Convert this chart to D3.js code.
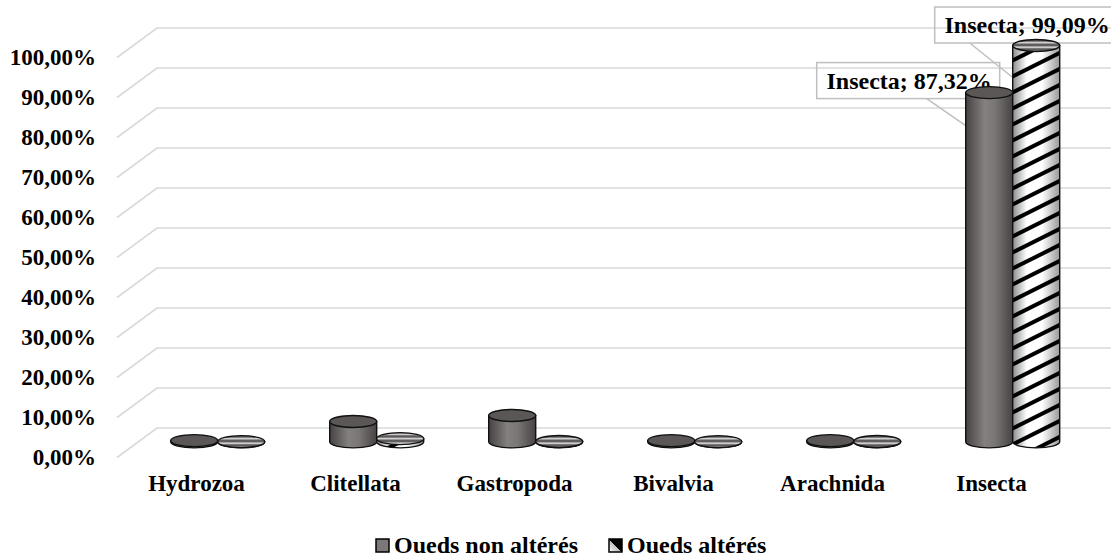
<!DOCTYPE html>
<html>
<head>
<meta charset="utf-8">
<script src="https://cdnjs.cloudflare.com/ajax/libs/d3/7.8.5/d3.min.js"></script>
<style>
    html, body { margin: 0; padding: 0; background: #fff; }
    svg { display: block; }
    text { font-family: "Liberation Serif", "Times New Roman", serif; font-weight: bold; fill: #000; }
</style>
</head>
<body>
<div id="chart"></div>
<script>
    'use strict';

    var categories = ['Hydrozoa', 'Clitellata', 'Gastropoda', 'Bivalvia', 'Arachnida', 'Insecta'];
    var seriesNames = ['Oueds non altérés', 'Oueds altérés'];
    var nonAlteres = [0.3, 5.1, 6.6, 0.3, 0.3, 87.32];
    var alteres = [0.05, 0.8, 0.1, 0.05, 0.1, 99.09];
    var yTicks = [0, 10, 20, 30, 40, 50, 60, 70, 80, 90, 100];
    // only the Insecta bars carry a data label
    var labelled = [
        { series: 0, category: 'Insecta', text: 'Insecta; 87,32%' },
        { series: 1, category: 'Insecta', text: 'Insecta; 99,09%' }
    ];

    var width = 1111;
    var height = 557;
    var depthX = -40, depthY = 29.5;   // back wall -> front edge
    var barDepth = 0.47;               // where the cylinders stand between back and front
    var ox = depthX * barDepth, oy = depthY * barDepth;
    var rx = 23.5, ry = 6;
    var stripeStep = 16, stripeSlope = 0.5;

    var fmt = function (v) { return d3.format('.2f')(v).replace('.', ',') + '%'; };

    var svg = d3.select('#chart').append('svg')
        .attr('width', width)
        .attr('height', height);

    var y = d3.scaleLinear().domain([0, 100]).range([428, 28]);
    var x = d3.scaleBand().domain(categories).range([157, 1111]);
    var xs = d3.scaleBand().domain(seriesNames)
        .range([x.bandwidth() / 2 - 2 * rx, x.bandwidth() / 2 + 2 * rx]);

    // ---- defs: gradients and hatch patterns
    var defs = svg.append('defs');

    var g1 = defs.append('linearGradient').attr('id', 'darkBody');
    [['0%', '#464242'], ['40%', '#858080'], ['62%', '#7b7676'], ['100%', '#474343']].forEach(function (s) {
        g1.append('stop').attr('offset', s[0]).attr('stop-color', s[1]);
    });

    var g2 = defs.append('linearGradient').attr('id', 'shade');
    [['0%', 0.45], ['30%', 0], ['62%', 0], ['100%', 0.4]].forEach(function (s) {
        g2.append('stop').attr('offset', s[0]).attr('stop-color', '#000').attr('stop-opacity', s[1]);
    });

    var hz = defs.append('pattern')
        .attr('id', 'hz')
        .attr('patternUnits', 'userSpaceOnUse')
        .attr('width', 10).attr('height', 4.5);
    hz.append('rect').attr('width', 10).attr('height', 4.5).attr('fill', '#5e5a5a');
    hz.append('rect').attr('width', 10).attr('height', 1.6).attr('y', 1.4).attr('fill', '#e6e6e6');

    var g3 = defs.append('linearGradient').attr('id', 'swatch2')
        .attr('x1', 0).attr('y1', 1).attr('x2', 1).attr('y2', 0);
    [['0%', '#fff'], ['49%', '#bbb'], ['50%', '#000'], ['100%', '#000']].forEach(function (s) {
        g3.append('stop').attr('offset', s[0]).attr('stop-color', s[1]);
    });

    // ---- gridlines (side wall + back wall)
    svg.append('g').selectAll('path').data(yTicks).enter().append('path')
        .attr('d', function (t) {
            return 'M' + (157 + depthX) + ',' + (y(t) + depthY) +
                'L157,' + y(t) + 'L' + width + ',' + y(t);
        })
        .attr('fill', 'none')
        .attr('stroke', '#d9d9d9')
        .attr('stroke-width', 1.6);

    // ---- y axis labels at the front edge
    svg.append('g').selectAll('text').data(yTicks).enter().append('text')
        .attr('x', 96)
        .attr('y', function (t) { return y(t) + depthY - 1; })
        .attr('dy', '0.35em')
        .attr('text-anchor', 'end')
        .style('font-size', '23px')
        .text(function (t) { return fmt(t); });

    // ---- category labels
    svg.append('g').selectAll('text').data(categories).enter().append('text')
        .attr('x', function (c) { return x(c) + x.bandwidth() / 2 + depthX; })
        .attr('y', 491)
        .attr('text-anchor', 'middle')
        .style('font-size', '23px')
        .text(function (c) { return c; });

    function barCenter (si, c) {
        return x(c) + xs(seriesNames[si]) + xs.bandwidth() / 2 + ox;
    }
    function values (si) { return si === 0 ? nonAlteres : alteres; }

    // ---- data labels (drawn before the bars, which cover them a little)
    var labelLayout = [
        { dx: -81, dy: -12, lead: 110, hit: 33 },
        { dx: -10, dy: -20.5, lead: 35, hit: 32 }
    ];
    var lg = svg.append('g');
    labelled.forEach(function (l, i) {
        var cx = barCenter(l.series, l.category);
        var v = values(l.series)[categories.indexOf(l.category)];
        var top = y(v) + oy;
        var L = labelLayout[i];
        var bw = 183, bh = 36;
        var bx = cx + L.dx - bw / 2, by = top + L.dy - bh / 2;
        lg.append('rect')
            .attr('x', bx).attr('y', by).attr('width', bw).attr('height', bh)
            .attr('fill', 'none').attr('stroke', '#bfbfbf').attr('stroke-width', 1.5);
        lg.append('line')
            .attr('x1', bx + L.lead).attr('y1', by + bh)
            .attr('x2', cx - rx).attr('y2', top + L.hit)
            .attr('stroke', '#bfbfbf').attr('stroke-width', 1.5);
        lg.append('text')
            .attr('x', bx + bw / 2 + 1).attr('y', by + bh / 2)
            .attr('dy', '0.35em')
            .attr('text-anchor', 'middle')
            .style('font-size', '24px')
            .text(l.text);
    });

    // ---- cylinders
    var bars = svg.append('g');
    categories.forEach(function (c, ci) {
        [0, 1].forEach(function (si) {
            var v = values(si)[ci];
            var cx = barCenter(si, c);
            var yb = y(0) + oy;
            var yt = y(v) + oy;
            var body = 'M' + (cx - rx) + ',' + yt + 'L' + (cx - rx) + ',' + yb +
                'A' + rx + ',' + ry + ' 0 0 0 ' + (cx + rx) + ',' + yb +
                'L' + (cx + rx) + ',' + yt + 'Z';
            var g = bars.append('g');
            if (si === 0) {
                g.append('path').attr('d', body).attr('fill', 'url(#darkBody)')
                    .attr('stroke', '#111').attr('stroke-width', 1.4);
                g.append('ellipse').attr('cx', cx).attr('cy', yt).attr('rx', rx).attr('ry', ry)
                    .attr('fill', '#5c5757').attr('stroke', '#111').attr('stroke-width', 1.4);
            } else {
                var clipId = 'clip-' + ci;
                defs.append('clipPath').attr('id', clipId)
                    .append('path').attr('d', body);
                var inner = g.append('g').attr('clip-path', 'url(#' + clipId + ')');
                inner.append('rect')
                    .attr('x', cx - rx).attr('y', yt - 1)
                    .attr('width', 2 * rx).attr('height', yb - yt + ry + 2)
                    .attr('fill', '#fff');
                // diagonal "/" stripes, rising to the right
                var starts = d3.range(yt, yb + ry + 2 * rx * stripeSlope + stripeStep, stripeStep);
                inner.selectAll('line').data(starts).enter().append('line')
                    .attr('x1', cx - rx - 2).attr('y1', function (s) { return s; })
                    .attr('x2', cx + rx + 2).attr('y2', function (s) { return s - (2 * rx + 4) * stripeSlope; })
                    .attr('stroke', '#000').attr('stroke-width', 4);
                inner.append('path').attr('d', body).attr('fill', 'url(#shade)');
                g.append('path').attr('d', body).attr('fill', 'none')
                    .attr('stroke', '#111').attr('stroke-width', 1.4);
                g.append('ellipse').attr('cx', cx).attr('cy', yt).attr('rx', rx).attr('ry', ry)
                    .attr('fill', 'url(#hz)').attr('stroke', '#111').attr('stroke-width', 1.4);
            }
        });
    });

    // ---- legend
    var legend = svg.append('g');
    var legendX = [376, 609];
    seriesNames.forEach(function (name, i) {
        legend.append('rect')
            .attr('x', legendX[i]).attr('y', 539).attr('width', 13).attr('height', 13)
            .attr('fill', i === 0 ? '#7d7878' : 'url(#swatch2)')
            .attr('stroke', '#000').attr('stroke-width', 1.5);
        legend.append('text')
            .attr('x', legendX[i] + 18).attr('y', 553)
            .style('font-size', '24px')
            .text(name);
    });
</script>
</body>
</html>
